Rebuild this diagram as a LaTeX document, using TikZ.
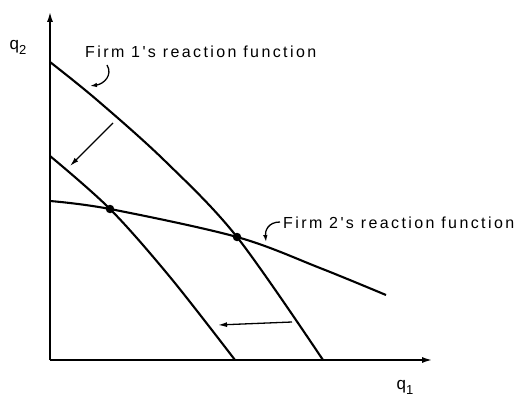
\documentclass[tikz,border=0pt]{standalone}
\usepackage{fontspec}
\setmainfont{Liberation Sans}
\newfontfamily\lbl[LetterSpace=15]{Liberation Sans}
\usetikzlibrary{arrows.meta}
\begin{document}
\begin{tikzpicture}[x=1pt,y=1pt,
  curve/.style={line width=2.1pt},
  axis/.style={line width=2.1pt,-{Latex[length=11pt,width=6pt]}},
  shiftarrow/.style={line width=1.3pt,-{Latex[length=9pt,width=5pt]}},
  callout/.style={line width=1.3pt,-{Latex[length=7pt,width=4.5pt]}},
  lab/.style={font=\lbl\fontsize{16}{18}\selectfont, inner sep=0pt, anchor=west},
  qlab/.style={font=\fontsize{17}{19}\selectfont, inner sep=0pt},
  eq/.style={circle, fill=black, inner sep=0pt, minimum size=8.5pt}]
\useasboundingbox (0,0) rectangle (517,397);
% axes
\coordinate (O) at (50,37);
\coordinate (ytop) at (50,386);
\coordinate (xend) at (433,37);
\draw[axis] (O) -- (ytop);
\draw[axis] (O) -- (xend);
\node[qlab] (q2) at (18,350) {q\raisebox{-5pt}{\fontsize{13}{14}\selectfont 2}};
\node[qlab] (q1) at (405,10) {q\raisebox{-5pt}{\fontsize{13}{14}\selectfont 1}};
% equilibrium points
\coordinate (E1) at (110,188);
\coordinate (E2) at (237,160);
% Firm 1 outer
\draw[curve] plot[smooth, tension=0.55] coordinates {(50,335) (97,297) (165,236) (237,160) (323,37)};
% Firm 1 inner
\draw[curve] plot[smooth, tension=0.55] coordinates {(50,241) (110,188) (170,120) (235,37)};
% Firm 2
\draw[curve] plot[smooth, tension=0.55] coordinates {(50,196) (110,188) (237,160) (320,129) (386,102)};
\node[eq] (e1) at (E1) {};
\node[eq] (e2) at (E2) {};
% labels
\node[lab] (f1) at (85,345) {Firm 1's reaction function};
\node[lab] (f2) at (283,174) {Firm 2's reaction function};
\coordinate (c1s) at (107,332);
\coordinate (c1e) at (90,311);
\draw[callout] (c1s) .. controls (113,322) and (104,313) .. (c1e);
\coordinate (c2s) at (280,175);
\coordinate (c2e) at (266,155);
\draw[callout] (c2s) .. controls (268,175) and (265,166) .. (c2e);
% shift arrows
\coordinate (s1a) at (113,274);
\coordinate (s1b) at (70,231);
\draw[shiftarrow] (s1a) -- (s1b);
\coordinate (s2a) at (292,75);
\coordinate (s2b) at (218,72);
\draw[shiftarrow] (s2a) -- (s2b);
\end{tikzpicture}
\end{document}
